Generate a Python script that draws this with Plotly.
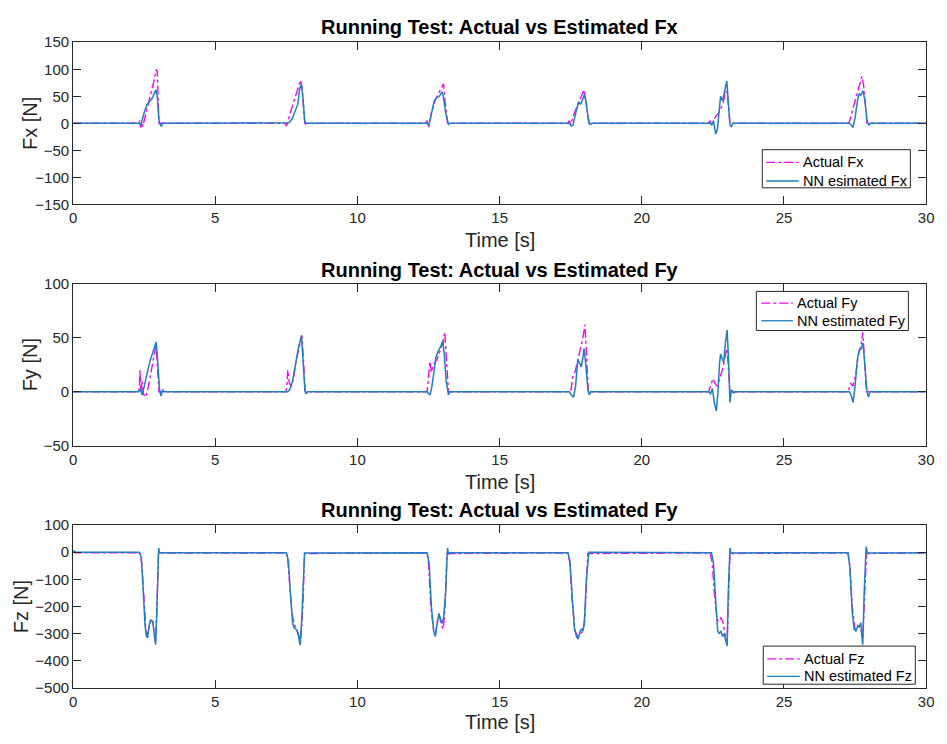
import plotly.graph_objects as go
from plotly.subplots import make_subplots

# ---- Fx: time knots [s] and force [N] ----
t_fx_act = [0, 2.30, 2.35, 2.38, 2.42, 2.45, 2.50, 2.60, 2.75, 2.85, 2.92, 2.96, 3.02,
            7.45, 7.50, 7.55, 7.70, 7.85, 8.00, 8.05, 8.15,
            12.40, 12.45, 12.50, 12.55, 12.60, 12.75, 12.90, 13.03, 13.08, 13.17,
            17.40, 17.45, 17.50, 17.60, 17.75, 17.90, 17.97, 18.02, 18.15,
            22.35, 22.40, 22.47, 22.55, 22.70, 22.85, 22.95, 23.02, 23.10,
            27.25, 27.30, 27.45, 27.60, 27.74, 27.80, 27.92, 30]
fx_act = [0, 0, 5, -8, 3, -6, 5, 25, 55, 80, 100, 95, 0,
          0, -5, 5, 30, 55, 80, 65, 0,
          0, 5, -8, 3, 20, 45, 60, 73, 40, 0,
          0, 5, -2, 15, 35, 55, 62, 45, 0,
          0, 5, -5, 8, 20, 35, 60, 50, 0,
          0, 3, 30, 60, 87, 70, 0, 0]

t_fx_nn = [0, 2.33, 2.38, 2.42, 2.50, 2.60, 2.70, 2.78, 2.85, 2.91, 2.96, 3.02, 3.06, 3.10, 3.16,
           7.55, 7.60, 7.70, 7.80, 7.90, 7.97, 8.03, 8.08, 8.14, 8.18, 8.22,
           12.45, 12.50, 12.55, 12.62, 12.70, 12.80, 12.88, 12.97, 13.02, 13.10, 13.17, 13.20, 13.26,
           17.45, 17.52, 17.58, 17.68, 17.78, 17.85, 17.92, 17.99, 18.05, 18.13, 18.18, 18.24,
           22.40, 22.46, 22.52, 22.60, 22.66, 22.72, 22.77, 22.84, 22.92, 22.99, 23.04, 23.10, 23.15, 23.20,
           27.30, 27.36, 27.42, 27.50, 27.58, 27.64, 27.70, 27.78, 27.85, 27.92, 27.98, 28.05, 30]
fx_nn = [0, 0, -3, 5, 20, 35, 42, 46, 55, 62, 50, 5, -2, -5, 0,
         0, 1, 8, 20, 35, 65, 72, 50, 5, -1, 0,
         0, -3, 5, 25, 42, 48, 50, 58, 50, 20, 0, -2, 0,
         0, -5, -3, 20, 40, 35, 45, 54, 35, 3, -2, 0,
         0, -3, 5, -20, -10, 30, 50, 42, 60, 78, 40, -3, -6, 0,
         0, -3, -8, 10, 40, 55, 52, 60, 40, 5, -3, 0, 0]

# ---- Fy ----
t_fy_act = [0, 2.30, 2.33, 2.35, 2.38, 2.42, 2.47, 2.55, 2.65, 2.75, 2.85, 2.92, 2.96, 3.02,
            7.48, 7.52, 7.55, 7.60, 7.68, 7.75, 7.85, 7.95, 8.05, 8.10, 8.16,
            12.45, 12.50, 12.55, 12.60, 12.68, 12.80, 12.90, 13.00, 13.07, 13.12, 13.20,
            17.45, 17.52, 17.57, 17.65, 17.80, 17.93, 18.00, 18.05, 18.12,
            22.35, 22.42, 22.50, 22.57, 22.65, 22.75, 22.85, 22.95, 23.00, 23.05, 23.10,
            27.25, 27.30, 27.35, 27.42, 27.52, 27.62, 27.72, 27.77, 27.82, 27.90, 30]
fy_act = [0, 0, 3, 20, 0, 10, -2, -5, 5, 20, 32, 44, 25, 0,
          0, 5, 20, 8, 5, 12, 30, 42, 52, 30, 0,
          0, 15, 28, 18, 25, 30, 37, 45, 55, 30, 0,
          0, 3, 14, 18, 35, 50, 62, 40, 0,
          0, 5, 12, 8, 5, 13, 22, 35, 40, 20, 0,
          0, 5, 8, 5, 15, 35, 45, 55, 35, 0, 0]

t_fy_nn = [0, 2.30, 2.37, 2.43, 2.50, 2.60, 2.70, 2.80, 2.92, 2.97, 3.04, 3.09, 3.15, 3.20,
           7.55, 7.62, 7.72, 7.82, 7.92, 8.03, 8.08, 8.15, 8.19, 8.24,
           12.45, 12.55, 12.62, 12.70, 12.76, 12.85, 12.93, 13.00, 13.05, 13.12, 13.20, 13.25,
           17.45, 17.52, 17.60, 17.67, 17.75, 17.82, 17.87, 17.93, 17.97, 18.03, 18.10, 18.15, 18.20,
           22.35, 22.42, 22.48, 22.55, 22.62, 22.68, 22.73, 22.77, 22.83, 22.88, 22.94, 23.00, 23.05,
           23.10, 23.15, 23.22, 23.30,
           27.30, 27.36, 27.43, 27.50, 27.58, 27.65, 27.72, 27.78, 27.84, 27.92, 27.97, 28.03, 30]
fy_nn = [0, 0, 2, -3, 5, 18, 28, 36, 46, 30, 2, -4, 2, 0,
         0, 2, 10, 25, 40, 52, 30, 2, -2, 0,
         0, -3, 5, 20, 32, 38, 42, 47, 35, 10, -3, 0,
         0, -3, -5, 5, 30, 26, 23, 32, 40, 25, 3, -3, 0,
         0, -2, 3, -10, -18, 0, 25, 35, 30, 27, 45, 57, 30,
         -10, 2, -1, 0,
         0, -3, -10, 5, 30, 38, 40, 45, 25, 0, -5, 0, 0]

# ---- Fz ----
t_fz_act = [0, 0.10, 2.30, 2.37, 2.43, 2.50, 2.56, 2.60, 2.66, 2.72, 2.80, 2.86, 2.90, 2.95, 3.00, 3.05,
            7.50, 7.55, 7.62, 7.70, 7.78, 7.85, 7.92, 8.00, 8.08, 8.14,
            12.45, 12.50, 12.58, 12.68, 12.74, 12.82, 12.88, 12.96, 13.02, 13.08, 13.15,
            17.40, 17.47, 17.55, 17.65, 17.75, 17.85, 17.93, 18.00, 18.10,
            22.40, 22.48, 22.55, 22.65, 22.72, 22.78, 22.86, 22.95, 23.00, 23.05, 23.10,
            27.25, 27.32, 27.40, 27.50, 27.58, 27.65, 27.70, 27.77, 27.82, 27.90, 30]
fz_act = [3, -2, -2, -5, -60, -200, -290, -305, -280, -250, -255, -310, -335, -200, -5, -3,
          -3, -30, -120, -230, -265, -280, -300, -335, -200, -5,
          -3, -40, -200, -290, -300, -250, -235, -270, -282, -200, -5,
          -3, -40, -180, -290, -310, -300, -290, -240, -5,
          -3, -40, -150, -250, -255, -240, -260, -320, -335, -150, -5,
          -3, -50, -200, -285, -275, -270, -280, -320, -200, -5, -3]

t_fz_nn = [0, 0.10, 2.33, 2.40, 2.47, 2.53, 2.58, 2.62, 2.68, 2.74, 2.80, 2.85, 2.90, 2.94, 2.99,
           3.01, 3.04, 3.10,
           7.50, 7.57, 7.64, 7.72, 7.78, 7.86, 7.93, 7.98, 8.04, 8.10, 8.14,
           12.45, 12.52, 12.60, 12.68, 12.74, 12.80, 12.86, 12.92, 12.98, 13.03, 13.10, 13.15,
           13.17, 13.20, 13.25,
           17.40, 17.47, 17.55, 17.63, 17.70, 17.76, 17.82, 17.88, 17.93, 17.98, 18.05, 18.12, 18.14,
           22.45, 22.52, 22.60, 22.67, 22.72, 22.78, 22.84, 22.90, 22.96, 23.00, 23.04, 23.07,
           23.10, 23.13,
           27.25, 27.32, 27.40, 27.47, 27.53, 27.60, 27.65, 27.70, 27.74, 27.77, 27.82, 27.87,
           27.89, 27.93, 30]
fz_nn = [5, 0, 0, -20, -150, -270, -310, -315, -265, -250, -255, -300, -340, -230, -30,
         15, -3, -2,
         -2, -30, -150, -260, -280, -285, -310, -342, -250, -60, -3,
         -2, -40, -200, -290, -310, -260, -225, -245, -262, -240, -150, -20,
         15, -8, -2,
         -2, -30, -160, -280, -310, -320, -295, -282, -290, -260, -100, -8, 0,
         -2, -40, -180, -290, -300, -290, -310, -300, -330, -345, -150, -5,
         15, -3,
         -2, -60, -220, -285, -290, -270, -275, -260, -300, -340, -150, 0,
         20, -3, -2]

titles = ["Running Test: Actual vs Estimated Fx",
          "Running Test: Actual vs Estimated Fy",
          "Running Test: Actual vs Estimated Fy"]
ylabels = ["Fx [N]", "Fy [N]", "Fz [N]"]
actual_names = ["Actual Fx", "Actual Fy", "Actual Fz"]
nn_names = ["NN esimated Fx", "NN estimated Fy", "NN estimated Fz"]
y_ranges = [[-150, 150], [-50, 100], [-500, 100]]
y_dticks = [50, 50, 100]

series = [(t_fx_act, fx_act, t_fx_nn, fx_nn),
          (t_fy_act, fy_act, t_fy_nn, fy_nn),
          (t_fz_act, fz_act, t_fz_nn, fz_nn)]

W, H = 947, 744
FONT = "Liberation Sans, Arial, Helvetica, sans-serif"
INK = "#262626"
MAGENTA = "#FF00FF"
BLUE = "#1f7fc4"


def px(x):
    return x / W


def py(y):
    return 1 - y / H


# axes boxes in pixels: (top, bottom)
boxes = [(34, 200), (281, 447), (528, 695)]
x_left, x_right = 70, 934

fig = make_subplots(rows=3, cols=1)

for i, (ta, ya, tn, yn) in enumerate(series):
    row = i + 1
    fig.add_trace(go.Scatter(x=ta, y=ya, mode="lines", name=actual_names[i],
                             line=dict(color=MAGENTA, width=1.4, dash="dashdot"),
                             showlegend=False), row=row, col=1)
    fig.add_trace(go.Scatter(x=tn, y=yn, mode="lines", name=nn_names[i],
                             line=dict(color=BLUE, width=1.5),
                             showlegend=False), row=row, col=1)

    top, bottom = boxes[i]
    axis_common = dict(showline=True, linecolor=INK, linewidth=1, mirror="ticks",
                       ticks="inside", ticklen=8, tickcolor=INK, showgrid=False,
                       zeroline=False, tickfont=dict(family=FONT, size=15, color=INK))
    fig.update_xaxes(range=[0, 30], dtick=5, tick0=0,
                     domain=[px(x_left), px(x_right)], row=row, col=1, **axis_common)
    fig.update_yaxes(range=y_ranges[i], dtick=y_dticks[i], tick0=0,
                     domain=[py(bottom), py(top)], row=row, col=1, **axis_common)

annotations = []
shapes = []
title_y = [18, 267, 513]
xlabel_y = [236, 484, 730]
ylabel_x = [27, 26, 17]
for i in range(3):
    top, bottom = boxes[i]
    annotations.append(dict(text="<b>%s</b>" % titles[i], x=px(502), y=py(title_y[i]),
                            xref="paper", yref="paper", showarrow=False,
                            xanchor="center", yanchor="middle",
                            font=dict(family=FONT, size=20, color="black")))
    annotations.append(dict(text="Time [s]", x=px(502), y=py(xlabel_y[i]),
                            xref="paper", yref="paper", showarrow=False,
                            xanchor="center", yanchor="middle",
                            font=dict(family=FONT, size=20, color=INK)))
    annotations.append(dict(text=ylabels[i], x=px(ylabel_x[i]), y=py((top + bottom) / 2),
                            xref="paper", yref="paper", showarrow=False, textangle=-90,
                            xanchor="center", yanchor="middle",
                            font=dict(family=FONT, size=20, color=INK)))

# legend boxes: (left, top, right, bottom) in pixels, sample line span, text start
legend_boxes = [
    dict(box=(768, 144, 918, 183), line=(772, 805), text_x=807, rows=(157, 176)),
    dict(box=(762, 289, 916, 329), line=(767, 799), text_x=801, rows=(301, 319)),
    dict(box=(769, 652, 923, 691), line=(773, 806), text_x=808, rows=(665, 683)),
]
for i, lg in enumerate(legend_boxes):
    x0, y0, x1, y1 = lg["box"]
    shapes.append(dict(type="rect", xref="paper", yref="paper",
                       x0=px(x0), x1=px(x1), y0=py(y1), y1=py(y0),
                       line=dict(color=INK, width=1), fillcolor="white", layer="above"))
    entries = [(actual_names[i], MAGENTA, "dashdot", 1.2), (nn_names[i], BLUE, "solid", 1.3)]
    for (label, color, dash, width), ry in zip(entries, lg["rows"]):
        shapes.append(dict(type="line", xref="paper", yref="paper",
                           x0=px(lg["line"][0]), x1=px(lg["line"][1]),
                           y0=py(ry), y1=py(ry),
                           line=dict(color=color, width=width, dash=dash), layer="above"))
        annotations.append(dict(text=label, x=px(lg["text_x"]), y=py(ry),
                                xref="paper", yref="paper", showarrow=False,
                                xanchor="left", yanchor="middle",
                                font=dict(family=FONT, size=14.5, color="black")))

fig.update_layout(
    width=W, height=H,
    margin=dict(l=0, r=0, t=0, b=0),
    paper_bgcolor="white", plot_bgcolor="white",
    showlegend=False,
    annotations=annotations,
    shapes=shapes,
)

fig.write_html("out.html")
